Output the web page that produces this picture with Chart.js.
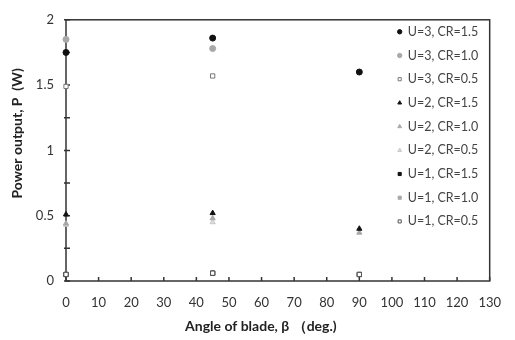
<!DOCTYPE html>
<html>
<head>
<meta charset="utf-8">
<script src="https://cdn.jsdelivr.net/npm/chart.js@4"></script>
<style>
  html, body { margin: 0; padding: 0; background: #fff; }
  #wrap { width: 515px; height: 340px; }
</style>
</head>
<body>
<div id="wrap"><canvas id="grafico"></canvas></div>
<script>
    // Datos (ángulo de la pala vs potencia)
    const angulos = [0, 45, 90];
    const xTicks = [0, 10, 20, 30, 40, 50, 60, 70, 80, 90, 100, 110, 120, 130];
    const yTicks = [0, 0.5, 1, 1.5, 2];

    const u3cr15 = [1.75, 1.86, 1.60];
    const u3cr10 = [1.85, 1.78, null];
    const u3cr05 = [1.49, 1.57, null];
    const u2cr15 = [0.51, 0.52, 0.40];
    const u2cr10 = [0.44, 0.48, 0.37];
    const u2cr05 = [0.43, 0.45, null];
    const u1cr15 = [0.05, 0.06, 0.05];
    const u1cr10 = [0.05, 0.06, 0.05];
    const u1cr05 = [0.05, 0.06, 0.05];

    const etiquetas = ['U=3, CR=1.5', 'U=3, CR=1.0', 'U=3, CR=0.5',
                       'U=2, CR=1.5', 'U=2, CR=1.0', 'U=2, CR=0.5',
                       'U=1, CR=1.5', 'U=1, CR=1.0', 'U=1, CR=0.5'];

    function puntos(valores) {
        return angulos.map((a, i) => ({ x: a, y: valores[i] })).filter(p => p.y !== null);
    }

    function serie(label, valores, estilo, relleno, borde, orden) {
        return {
            label: label,
            data: puntos(valores),
            pointStyle: estilo,
            backgroundColor: relleno,
            borderColor: borde,
            borderWidth: 1,
            pointRadius: 3,
            showLine: false,
            clip: false,
            order: orden || 0
        };
    }

    const datasets = [
        serie(etiquetas[0], u3cr15, 'circle', '#111', '#111'),
        serie(etiquetas[1], u3cr10, 'circle', '#a8a8a8', '#a8a8a8'),
        serie(etiquetas[2], u3cr05, 'rect', '#fff', '#777', -1),
        serie(etiquetas[3], u2cr15, 'triangle', '#111', '#111'),
        serie(etiquetas[4], u2cr10, 'triangle', '#a8a8a8', '#a8a8a8'),
        serie(etiquetas[5], u2cr05, 'triangle', '#ddd', '#c8c8c8'),
        serie(etiquetas[6], u1cr15, 'rect', '#111', '#111'),
        serie(etiquetas[7], u1cr10, 'rect', '#a8a8a8', '#a8a8a8'),
        serie(etiquetas[8], u1cr05, 'rect', '#fff', '#555', -1)
    ];

    // Marco, marcas interiores y leyenda dentro del área
    const marcoYLeyenda = {
        id: 'marcoYLeyenda',
        beforeDatasetsDraw(chart) {
            const ctx = chart.ctx;
            const area = chart.chartArea;
            const xs = chart.scales.x;
            const ys = chart.scales.y;
            ctx.save();
            ctx.strokeStyle = '#333';
            ctx.lineWidth = 1.5;
            ctx.strokeRect(area.left, area.top, area.right - area.left, area.bottom - area.top);
            ctx.beginPath();
            xs.ticks.forEach(t => {
                const px = xs.getPixelForValue(t.value);
                ctx.moveTo(px, area.bottom);
                ctx.lineTo(px, area.bottom - 4);
            });
            ys.ticks.forEach(t => {
                const py = ys.getPixelForValue(t.value);
                ctx.moveTo(area.left - 2, py);
                ctx.lineTo(area.left + 4, py);
            });
            ctx.stroke();
            ctx.restore();
        },
        afterDraw(chart) {
            const ctx = chart.ctx;
            const area = chart.chartArea;
            ctx.save();
            ctx.font = '12.5px Lato, "Open Sans", sans-serif';
            ctx.textBaseline = 'middle';
            chart.data.datasets.forEach((ds, i) => {
                const y = area.top + 12 + i * 23.7;
                const x = area.right - 90;
                ctx.fillStyle = '#444';
                ctx.fillText(ds.label, x + 8, y);
                ctx.fillStyle = ds.backgroundColor;
                ctx.strokeStyle = ds.borderColor;
                ctx.lineWidth = 1;
                Chart.helpers.drawPoint(ctx, { pointStyle: ds.pointStyle, radius: 2.2, borderWidth: 1, rotation: 0 }, x, y);
            });
            ctx.restore();
        }
    };

    const fuente = 'Lato, "Open Sans", sans-serif';

    new Chart(document.getElementById('grafico').getContext('2d'), {
        type: 'scatter',
        data: { datasets: datasets },
        plugins: [marcoYLeyenda],
        options: {
            responsive: true,
            maintainAspectRatio: false,
            animation: false,
            layout: { padding: { top: 19, right: 15, left: 0, bottom: 0 } },
            plugins: {
                legend: { display: false },
                tooltip: { enabled: false }
            },
            scales: {
                x: {
                    type: 'linear',
                    min: 0,
                    max: 130,
                    afterFit: s => { s.height = 59; },
                    afterBuildTicks: s => { s.ticks = xTicks.map(v => ({ value: v })); },
                    grid: { display: false, drawTicks: false },
                    border: { display: false },
                    ticks: {
                        padding: 14,
                        color: '#333',
                        font: { family: fuente, size: 13 }
                    },
                    title: {
                        display: true,
                        text: 'Angle of blade, β （deg.)          ',
                        color: '#222',
                        font: { family: fuente, size: 14, weight: 'bold' },
                        padding: { top: 0, bottom: 5 }
                    }
                },
                y: {
                    type: 'linear',
                    min: 0,
                    max: 2,
                    afterFit: s => { s.width = 66; },
                    ticks: {
                        stepSize: 0.25,
                        padding: 12,
                        color: '#333',
                        font: { family: fuente, size: 13 },
                        callback: v => yTicks.includes(v) ? String(v) : ''
                    },
                    grid: { display: false, drawTicks: false },
                    border: { display: false },
                    title: {
                        display: true,
                        text: '          Power output, P  (W)',
                        color: '#222',
                        font: { family: fuente, size: 14, weight: 'bold' },
                        padding: { top: 9, bottom: 0 }
                    }
                }
            }
        }
    });
</script>
</body>
</html>
